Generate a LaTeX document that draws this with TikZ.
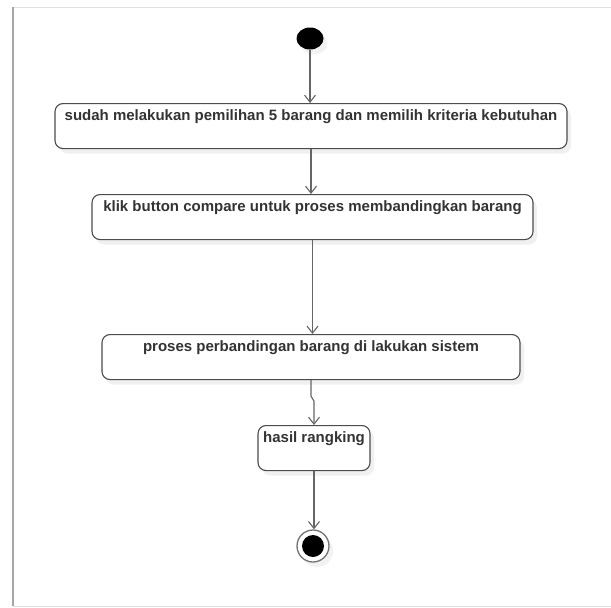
\documentclass[tikz,border=0pt]{standalone}
\usepackage{fontspec}
\setmainfont{Liberation Sans}
\usetikzlibrary{arrows.meta,shapes.geometric,shadows}

\tikzset{
  act/.style={draw=black!70, line width=1.1pt, rounded corners=8pt, fill=white,
    anchor=north, inner xsep=4pt, inner ysep=3pt, text height=14pt, text depth=25pt,
    font=\fontsize{15}{17}\selectfont\bfseries, text=black!80,
    drop shadow={shadow xshift=4pt, shadow yshift=-5pt, opacity=.12}},
  flow/.style={draw=black!60, line width=1.1pt, -{Straight Barb[length=7pt,width=11pt]}},
}

\begin{document}
\begin{tikzpicture}[x=1pt,y=-1pt]
\useasboundingbox (0,0) rectangle (611,608);
% page frame
\draw[black!12, line width=1pt] (620,7.5) -- (13,7.5) -- (13,606) -- (620,606);
\draw[black!35, line width=2.2pt] (13,7) -- (13,606);

% start and end states
\node[ellipse, fill=black, minimum width=27pt, minimum height=22pt, inner sep=0pt,
  drop shadow={shadow xshift=4pt, shadow yshift=-5pt, opacity=.1}] (start) at (310,38.5) {};
\node[circle, draw=black!55, line width=1.3pt, fill=white, minimum size=32pt, inner sep=0pt,
  drop shadow={shadow xshift=4pt, shadow yshift=-5pt, opacity=.1},
  path picture={\fill[black] (path picture bounding box.center) circle (11pt);}] (stop) at (313,546) {};

% activities
\node[act, minimum width=512pt] (p1) at (311,103) {sudah melakukan pemilihan 5 barang dan memilih kriteria kebutuhan};
\node[act, minimum width=441pt] (p2) at (312.5,194) {klik button compare untuk proses membandingkan barang};
\node[act, minimum width=418pt] (p3) at (311,334) {proses perbandingan barang di lakukan sistem};
\node[act, minimum width=112pt] (p4) at (314,425) {hasil rangking};

% transitions
\draw[flow] (start.south) -- (start.south |- p1.north);
\foreach \a/\b in {p1/p2,p2/p3}
  \draw[flow] (\a.south) -- (\a.south |- \b.north);
\draw[flow] (p3.south) -- ++(0,16) -- ++(3,5) -- (p4.north);
\draw[flow] (p4.south) -- (p4.south |- stop.north);
\end{tikzpicture}
\end{document}
